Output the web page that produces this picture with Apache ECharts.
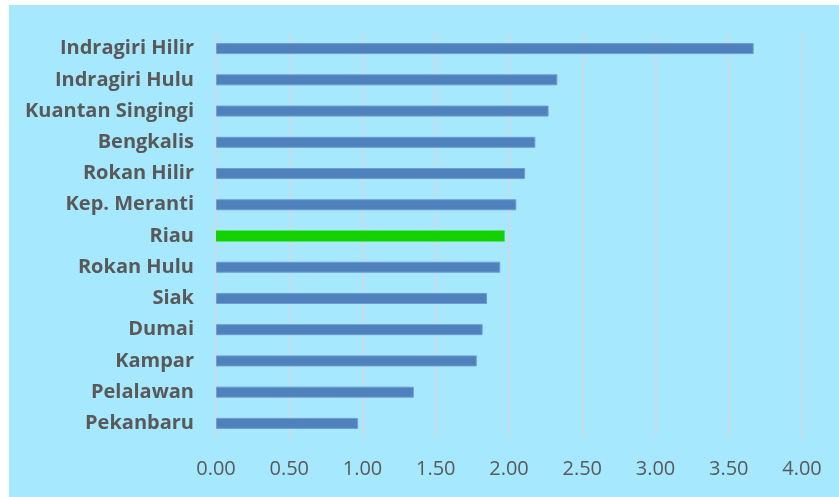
<!DOCTYPE html>
<html>
<head>
<meta charset="utf-8">
<script src="https://cdn.jsdelivr.net/npm/echarts@6/dist/echarts.min.js"></script>
<style>
html,body{margin:0;padding:0;background:#ffffff;}
#bg{position:absolute;left:9px;top:5px;width:830px;height:492px;background:#a6e8fd;}
#chart{position:absolute;left:0;top:0;width:839px;height:497px;}
</style>
</head>
<body>
<div id="bg"></div>
<div id="chart"></div>
<script>
const categories = ["Indragiri Hilir","Indragiri Hulu","Kuantan Singingi","Bengkalis","Rokan Hilir","Kep. Meranti","Riau","Rokan Hulu","Siak","Dumai","Kampar","Pelalawan","Pekanbaru"];
const values = [3.67,2.33,2.27,2.18,2.11,2.05,1.97,1.94,1.85,1.82,1.78,1.35,0.97];
const highlight = "Riau";

const chart = echarts.init(document.getElementById('chart'));
chart.setOption({
  backgroundColor: 'transparent',
  animation: false,
  grid: {left: 216, right: 37, top: 33, bottom: 58, containLabel: false},
  xAxis: {
    type: 'value', min: 0, max: 4, interval: 0.5,
    axisLine: {show: false}, axisTick: {show: false},
    splitLine: {lineStyle: {color: '#d4d9dc', width: 1.5}},
    axisLabel: {formatter: v => v.toFixed(2), color: '#595959', fontFamily: 'Open Sans', fontSize: 20, margin: 20}
  },
  yAxis: {
    type: 'category', data: categories, inverse: true,
    axisLine: {show: false}, axisTick: {show: false},
    axisLabel: {color: '#595959', fontFamily: 'Open Sans', fontWeight: 'bold', fontSize: 20, margin: 22}
  },
  series: [{
    type: 'bar', barWidth: 11,
    data: categories.map((c, i) => ({
      value: values[i],
      itemStyle: c === highlight ? {color: '#14d100', borderWidth: 0} : {color: '#4f81bd', borderColor: '#6f9ad0', borderWidth: 1}
    }))
  }]
});
</script>
</body>
</html>
